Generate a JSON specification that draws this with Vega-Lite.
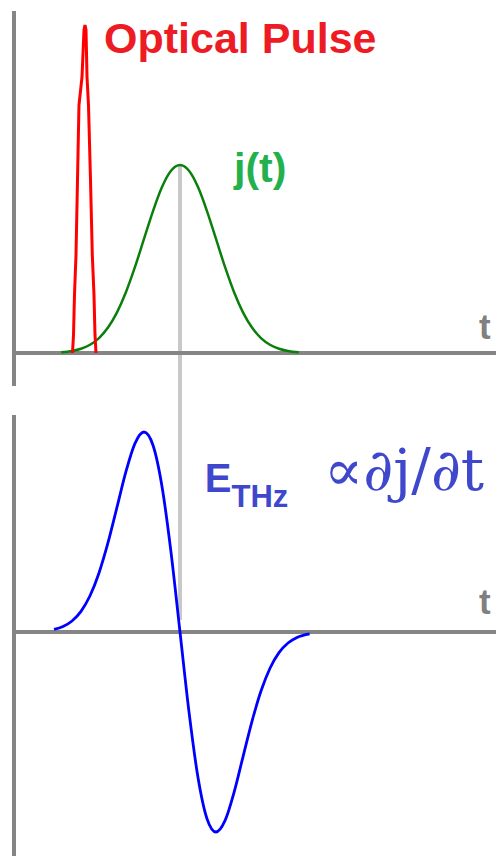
{
  "$schema": "https://vega.github.io/schema/vega-lite/v6.json",
  "padding": 0,
  "spacing": 0,
  "bounds": "flush",
  "background": "white",
  "config": {"view": {"stroke": null}},
  "datasets": {
    "one": [{}],
    "pulse": [
      {"t": -2.986, "amp": 0},
      {"t": -2.958, "amp": 0.096},
      {"t": -2.931, "amp": 0.309},
      {"t": -2.889, "amp": 0.521},
      {"t": -2.847, "amp": 0.92},
      {"t": -2.806, "amp": 1.319},
      {"t": -2.722, "amp": 1.468},
      {"t": -2.667, "amp": 1.718},
      {"t": -2.639, "amp": 1.745},
      {"t": -2.611, "amp": 1.718},
      {"t": -2.583, "amp": 1.468},
      {"t": -2.542, "amp": 1.319},
      {"t": -2.486, "amp": 0.92},
      {"t": -2.436, "amp": 0.521},
      {"t": -2.389, "amp": 0.309},
      {"t": -2.361, "amp": 0.096},
      {"t": -2.333, "amp": 0}
    ],
    "current": [
      {"t": -3.3, "j": 0.0043},
      {"t": -3.0, "j": 0.0111},
      {"t": -2.75, "j": 0.0228},
      {"t": -2.5, "j": 0.0439},
      {"t": -2.25, "j": 0.0796},
      {"t": -2.0, "j": 0.1353},
      {"t": -1.75, "j": 0.2163},
      {"t": -1.5, "j": 0.3247},
      {"t": -1.25, "j": 0.4578},
      {"t": -1.0, "j": 0.6065},
      {"t": -0.75, "j": 0.7548},
      {"t": -0.5, "j": 0.8825},
      {"t": -0.25, "j": 0.9692},
      {"t": 0, "j": 1},
      {"t": 0.25, "j": 0.9692},
      {"t": 0.5, "j": 0.8825},
      {"t": 0.75, "j": 0.7548},
      {"t": 1.0, "j": 0.6065},
      {"t": 1.25, "j": 0.4578},
      {"t": 1.5, "j": 0.3247},
      {"t": 1.75, "j": 0.2163},
      {"t": 2.0, "j": 0.1353},
      {"t": 2.25, "j": 0.0796},
      {"t": 2.5, "j": 0.0439},
      {"t": 2.75, "j": 0.0228},
      {"t": 3.0, "j": 0.0111},
      {"t": 3.3, "j": 0.0043}
    ],
    "field": [
      {"t": -3.5, "e": 0.0126},
      {"t": -3.25, "e": 0.0273},
      {"t": -3.0, "e": 0.055},
      {"t": -2.75, "e": 0.1034},
      {"t": -2.5, "e": 0.1811},
      {"t": -2.25, "e": 0.2951},
      {"t": -2.0, "e": 0.4463},
      {"t": -1.75, "e": 0.624},
      {"t": -1.5, "e": 0.8029},
      {"t": -1.25, "e": 0.9435},
      {"t": -1.0, "e": 1.0},
      {"t": -0.75, "e": 0.9334},
      {"t": -0.5, "e": 0.7275},
      {"t": -0.25, "e": 0.3995},
      {"t": 0, "e": 0},
      {"t": 0.25, "e": -0.3995},
      {"t": 0.5, "e": -0.7275},
      {"t": 0.75, "e": -0.9334},
      {"t": 1.0, "e": -1.0},
      {"t": 1.25, "e": -0.9435},
      {"t": 1.5, "e": -0.8029},
      {"t": 1.75, "e": -0.624},
      {"t": 2.0, "e": -0.4463},
      {"t": 2.25, "e": -0.2951},
      {"t": 2.5, "e": -0.1811},
      {"t": 2.75, "e": -0.1034},
      {"t": 3.0, "e": -0.055},
      {"t": 3.25, "e": -0.0273},
      {"t": 3.6, "e": -0.0091}
    ]
  },
  "vconcat": [
    {
      "width": 496,
      "height": 400,
      "layer": [
        {
          "data": {"name": "one"},
          "mark": {"type": "rule", "color": "#c8c8c8", "strokeWidth": 4},
          "encoding": {
            "x": {"datum": 0, "type": "quantitative", "scale": {"domain": [-5, 8.778], "nice": false, "zero": false}, "axis": null},
            "y": {"datum": 1, "type": "quantitative", "scale": {"domain": [-0.25, 1.8777], "nice": false, "zero": false}, "axis": null},
            "y2": {"datum": -0.25}
          }
        },
        {
          "data": {"name": "one"},
          "mark": {"type": "rule", "color": "#858585", "strokeWidth": 4},
          "encoding": {
            "x": {"datum": -4.611, "type": "quantitative"},
            "y": {"datum": 1.819, "type": "quantitative"},
            "y2": {"datum": -0.1755}
          }
        },
        {
          "data": {"name": "one"},
          "mark": {"type": "rule", "color": "#858585", "strokeWidth": 4},
          "encoding": {
            "x": {"datum": -4.667, "type": "quantitative"},
            "x2": {"datum": 8.778},
            "y": {"datum": 0, "type": "quantitative"}
          }
        },
        {
          "data": {"name": "current"},
          "mark": {"type": "line", "color": "#0b7f0b", "strokeWidth": 2.5, "interpolate": "monotone"},
          "encoding": {
            "x": {"field": "t", "type": "quantitative"},
            "y": {"field": "j", "type": "quantitative"}
          }
        },
        {
          "data": {"name": "pulse"},
          "mark": {"type": "line", "color": "#ff0000", "strokeWidth": 3},
          "encoding": {
            "x": {"field": "t", "type": "quantitative"},
            "y": {"field": "amp", "type": "quantitative"}
          }
        },
        {
          "data": {"name": "one"},
          "mark": {"type": "text", "text": "Optical Pulse", "font": "Liberation Sans", "fontWeight": "bold", "fontSize": 43, "color": "#ed1c24", "align": "left", "baseline": "alphabetic"},
          "encoding": {
            "x": {"datum": -2.11, "type": "quantitative"},
            "y": {"datum": 1.596, "type": "quantitative"}
          }
        },
        {
          "data": {"name": "one"},
          "mark": {"type": "text", "text": "j(t)", "font": "Liberation Sans", "fontWeight": "bold", "fontSize": 41, "color": "#22b14c", "align": "left", "baseline": "alphabetic"},
          "encoding": {
            "x": {"datum": 1.5, "type": "quantitative"},
            "y": {"datum": 0.91, "type": "quantitative"}
          }
        },
        {
          "data": {"name": "one"},
          "mark": {"type": "text", "text": "t", "font": "Liberation Sans", "fontWeight": "bold", "fontSize": 35, "color": "#808080", "align": "center", "baseline": "alphabetic"},
          "encoding": {
            "x": {"datum": 8.47, "type": "quantitative"},
            "y": {"datum": 0.0745, "type": "quantitative"}
          }
        }
      ]
    },
    {
      "width": 496,
      "height": 456,
      "layer": [
        {
          "data": {"name": "one"},
          "mark": {"type": "rule", "color": "#c8c8c8", "strokeWidth": 4},
          "encoding": {
            "x": {"datum": 0, "type": "quantitative", "scale": {"domain": [-5, 8.778], "nice": false, "zero": false}, "axis": null},
            "y": {"datum": 1.16, "type": "quantitative", "scale": {"domain": [-1.12, 1.16], "nice": false, "zero": false}, "axis": null},
            "y2": {"datum": 0.06}
          }
        },
        {
          "data": {"name": "one"},
          "mark": {"type": "rule", "color": "#858585", "strokeWidth": 4},
          "encoding": {
            "x": {"datum": -4.611, "type": "quantitative"},
            "y": {"datum": 1.085, "type": "quantitative"},
            "y2": {"datum": -1.12}
          }
        },
        {
          "data": {"name": "one"},
          "mark": {"type": "rule", "color": "#858585", "strokeWidth": 4},
          "encoding": {
            "x": {"datum": -4.667, "type": "quantitative"},
            "x2": {"datum": 8.778},
            "y": {"datum": 0, "type": "quantitative"}
          }
        },
        {
          "data": {"name": "field"},
          "mark": {"type": "line", "color": "#0000ff", "strokeWidth": 2.8, "interpolate": "monotone"},
          "encoding": {
            "x": {"field": "t", "type": "quantitative"},
            "y": {"field": "e", "type": "quantitative"}
          }
        },
        {
          "data": {"name": "one"},
          "mark": {"type": "text", "text": "E", "font": "Liberation Sans", "fontWeight": "bold", "fontSize": 40, "color": "#3f48cc", "align": "left", "baseline": "alphabetic"},
          "encoding": {
            "x": {"datum": 0.69, "type": "quantitative"},
            "y": {"datum": 0.7, "type": "quantitative"}
          }
        },
        {
          "data": {"name": "one"},
          "mark": {"type": "text", "text": "THz", "font": "Liberation Sans", "fontWeight": "bold", "fontSize": 31, "color": "#3f48cc", "align": "left", "baseline": "alphabetic"},
          "encoding": {
            "x": {"datum": 1.43, "type": "quantitative"},
            "y": {"datum": 0.625, "type": "quantitative"}
          }
        },
        {
          "data": {"name": "one"},
          "mark": {"type": "text", "text": "∝∂j/∂t", "font": "DejaVu Serif", "fontSize": 58, "color": "#3f48cc", "align": "right", "baseline": "alphabetic"},
          "encoding": {
            "x": {"datum": 8.45, "type": "quantitative"},
            "y": {"datum": 0.71, "type": "quantitative"}
          }
        },
        {
          "data": {"name": "one"},
          "mark": {"type": "text", "text": "t", "font": "Liberation Sans", "fontWeight": "bold", "fontSize": 35, "color": "#808080", "align": "center", "baseline": "alphabetic"},
          "encoding": {
            "x": {"datum": 8.47, "type": "quantitative"},
            "y": {"datum": 0.09, "type": "quantitative"}
          }
        }
      ]
    }
  ]
}
